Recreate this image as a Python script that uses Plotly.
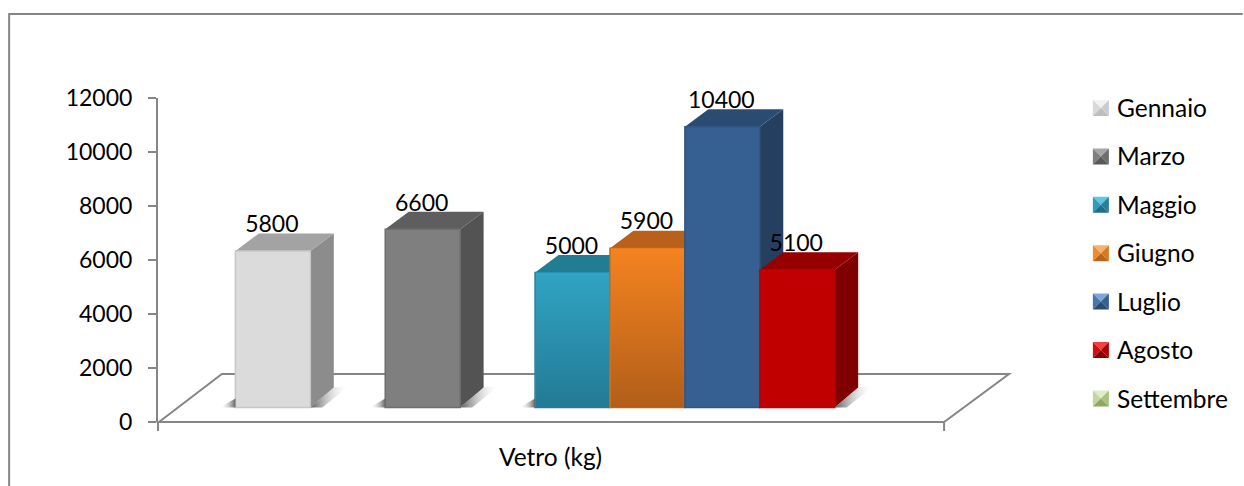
import plotly.graph_objects as go

# ---- data ----
series = ["Gennaio", "", "Marzo", "", "Maggio", "Giugno", "Luglio", "Agosto", "Settembre"]
values = [5800, None, 6600, None, 5000, 5900, 10400, 5100, None]
category = "Vetro (kg)"
y_ticks = [0, 2000, 4000, 6000, 8000, 10000, 12000]

# ---- styles: front, front bottom (gradient), top face, side face, swatch 4 shades ----
styles = {
    "Gennaio":   dict(front="#DBDBDB", bottom=None, top="#A3A3A3", side="#8C8C8C", edge="#C8C8C8", sw=("#F2F2F2", "#D9D9D9", "#BDBDBD", "#CCCCCC")),
    "Marzo":     dict(front="#7F7F7F", bottom=None, top="#5E5E5E", side="#535353", edge="#6E6E6E", sw=("#A6A6A6", "#7F7F7F", "#595959", "#6E6E6E")),
    "Maggio":    dict(front="#31A3C4", bottom="#237A94", top="#227C92", side="#1D6A80", edge="#25819B", sw=("#5CC8E4", "#2E9CBC", "#1F6E86", "#277F99")),
    "Giugno":    dict(front="#F58320", bottom="#B25E1A", top="#B9601A", side="#A0520F", edge="#C46A1A", sw=("#FAB06A", "#EE8A30", "#B5651D", "#D27A24")),
    "Luglio":    dict(front="#376092", bottom=None, top="#2B4B73", side="#243F60", edge="#305580", sw=("#7EA6DC", "#4A76AE", "#2B4B73", "#376092")),
    "Agosto":    dict(front="#C00000", bottom=None, top="#960000", side="#7F0000", edge="#C00000", sw=("#F04040", "#D01010", "#8C0000", "#B00000")),
    "Settembre": dict(front="#C3D69B", bottom=None, top="#9BBB59", side="#77933C", edge="#9BBB59", sw=("#E0EBC8", "#C3D69B", "#8FA860", "#A9C27C")),
}
AXIS = "#868686"
FONT = "Lato, Carlito, Calibri, sans-serif"
FS_NUM = 23
FS_TXT = 24.5

# ---- canvas geometry (pixels) ----
W, H = 1244, 486
L, R, T, B = 158, 1020, 98, 422
SLOT, X0 = 75.0, 235.5
PX_PER_UNIT = (B - T) / 12000
BASE = (B - 407.5) / PX_PER_UNIT      # front foot of the bars, value units above the axis origin
DX = 23.5 / SLOT
DY_TOP = 17.5 / PX_PER_UNIT
DY_BOT = 20.0 / PX_PER_UNIT

def xp(px): return (px - L) / (R - L)
def yp(py): return (B - py) / (B - T)
def path(points, conv=lambda p: p):
    return "M" + " L".join(f"{a:.4f},{b:.4f}" for a, b in map(conv, points)) + " Z"
paper = lambda p: (xp(p[0]), yp(p[1]))

fig = go.Figure()
shapes = []

# chart frame
shapes.append(dict(type="path", xref="paper", yref="paper",
                   path=f"M{xp(9):.4f},{yp(486):.4f} L{xp(9):.4f},{yp(14):.4f} L{xp(1244):.4f},{yp(14):.4f}",
                   line=dict(color=AXIS, width=2), layer="below"))
# floor
shapes.append(dict(type="path", xref="paper", yref="paper",
                   path=path([(159, 422), (945, 422), (1010, 374), (222, 374)], paper),
                   line=dict(color=AXIS, width=2), fillcolor="white", layer="below"))
# x axis end ticks
for px in (158, 945):
    shapes.append(dict(type="line", xref="paper", yref="paper", x0=xp(px), x1=xp(px), y0=yp(422), y1=yp(431),
                       line=dict(color=AXIS, width=2), layer="below"))

# shadows on the floor
def shadow(pts, c0, c1):
    fig.add_trace(go.Scatter(x=[p[0] for p in pts], y=[p[1] for p in pts], mode="lines", line=dict(width=0),
                             fill="toself", hoverinfo="skip", showlegend=False,
                             fillgradient=dict(type="horizontal", colorscale=[[0, c0], [1, c1]])))

groups = [(0, 0), (2, 2), (4, 7)]
for first, last in groups:
    l, r = first, last + 1
    shadow([(l - 16 / SLOT, BASE), (l, BASE + 9 / PX_PER_UNIT), (l, BASE)], "rgba(255,255,255,0)", "rgba(100,100,100,1)")
    shadow([(r, BASE), (r + DX, BASE + DY_BOT), (r + DX + 16 / SLOT, BASE + DY_BOT + 2 / PX_PER_UNIT), (r + 12 / SLOT, BASE)],
           "rgba(90,90,90,1)", "rgba(255,255,255,0)")

# bars: side and top faces are shapes under the trace layer, front faces are the bars
for i, (name, v) in enumerate(zip(series, values)):
    if not name or v is None:
        continue
    st = styles[name]
    top = BASE + v
    shapes.append(dict(type="path", xref="x", yref="y", layer="below", fillcolor=st["side"], line=dict(width=0),
                       path=path([(i + 1, BASE), (i + 1 + DX, BASE + DY_BOT), (i + 1 + DX, top + DY_TOP), (i + 1, top)])))
    shapes.append(dict(type="path", xref="x", yref="y", layer="below", fillcolor=st["top"], line=dict(width=0),
                       path=path([(i, top), (i + DX, top + DY_TOP), (i + 1 + DX, top + DY_TOP), (i + 1, top)])))
    fig.add_trace(go.Bar(x=[i + 0.5], y=[v], base=BASE, width=1, name=name, showlegend=False,
                         marker=dict(color=st["front"], line=dict(color=st["edge"], width=1.5))))
    if st["bottom"]:
        m = 1 / SLOT
        fig.add_trace(go.Scatter(x=[i + m, i + 1 - m, i + 1 - m, i + m], y=[BASE, BASE, top, top], mode="lines",
                                 line=dict(width=0), fill="toself", hoverinfo="skip", showlegend=False,
                                 fillgradient=dict(type="vertical", colorscale=[[0, st["bottom"]], [1, st["front"]]])))

# value labels
idx = [i for i, v in enumerate(values) if v is not None]
fig.add_trace(go.Scatter(x=[i + 0.5 - 1 / SLOT for i in idx], y=[BASE + values[i] + 24.5 / PX_PER_UNIT for i in idx],
                         mode="text", text=[str(values[i]) for i in idx], textposition="middle center",
                         textfont=dict(family=FONT, size=FS_NUM, color="black"), hoverinfo="skip", showlegend=False, cliponaxis=False))

# legend: native entries, bevelled swatches are drawn underneath
legend_names = [n for n in series if n]
for n in legend_names:
    fig.add_trace(go.Scatter(x=[None], y=[None], mode="markers", name=n, legendgroup=n,
                             marker=dict(color="rgba(0,0,0,0)", size=10), showlegend=True))
for k, n in enumerate(legend_names):
    cy = 108 + k * 48.4
    x0, x1, y0, y1 = 1094, 1110, cy - 8, cy + 8
    c = (x0 + x1) / 2
    tc, lc, bc, rc = styles[n]["sw"]
    for pts, col in (([(x0, y0), (x1, y0), (c, cy)], tc), ([(x0, y0), (x0, y1), (c, cy)], lc),
                     ([(x0, y1), (x1, y1), (c, cy)], bc), ([(x1, y0), (x1, y1), (c, cy)], rc)):
        shapes.append(dict(type="path", xref="paper", yref="paper", path=path(pts, paper), fillcolor=col, line=dict(width=0)))

fig.update_layout(
    width=W, height=H, autosize=False,
    margin=dict(l=L, r=W - R, t=T, b=H - B, pad=0),
    paper_bgcolor="white", plot_bgcolor="rgba(0,0,0,0)",
    font=dict(family=FONT, size=FS_NUM, color="black"),
    barmode="overlay", shapes=shapes, hovermode=False,
    legend=dict(x=xp(1077), y=yp(85), xanchor="left", yanchor="top", tracegroupgap=13.6, bgcolor="rgba(0,0,0,0)",
                maxheight=420, font=dict(family=FONT, size=FS_TXT, color="black")),
    xaxis=dict(range=[(L - X0) / SLOT, (R - X0) / SLOT], showgrid=False, zeroline=False, showline=False, ticks="",
               tickmode="array", tickvals=[(551 - X0) / SLOT], ticktext=[category], ticklabelstandoff=18,
               tickfont=dict(family=FONT, size=FS_TXT)),
    yaxis=dict(range=[0, 12000], tickmode="array", tickvals=y_ticks, ticktext=[str(t) for t in y_ticks], showgrid=False, zeroline=False,
               showline=True, linecolor=AXIS, linewidth=2, ticks="outside", ticklen=8, tickwidth=2, tickcolor=AXIS,
               ticklabelstandoff=11),
)
fig.write_html("out.html", config=dict(displayModeBar=False),
               post_script="document.body.style.margin='0';document.documentElement.style.overflow='hidden';")
